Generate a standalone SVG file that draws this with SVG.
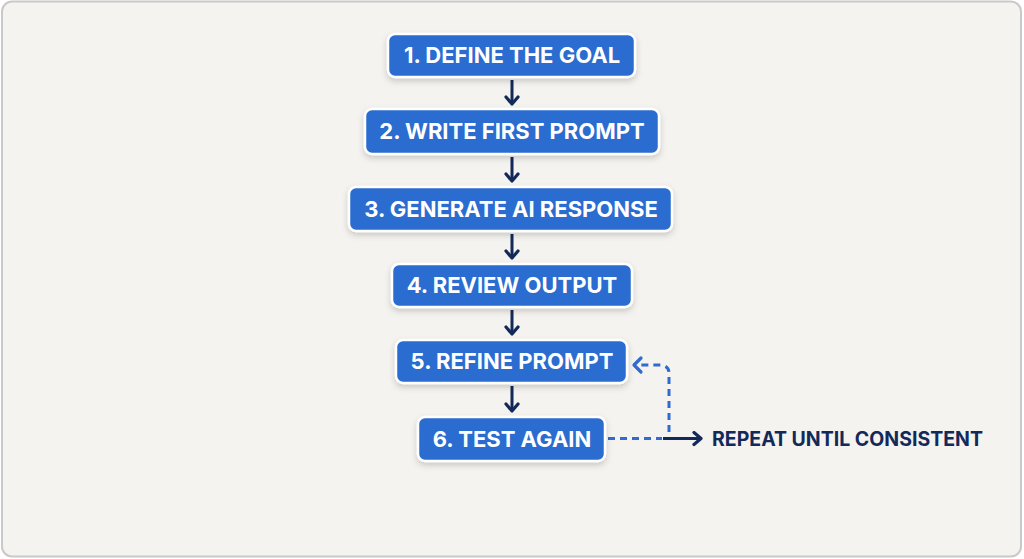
<svg xmlns="http://www.w3.org/2000/svg" width="1024" height="559" viewBox="0 0 1024 559">
<defs>
<filter id="sh" x="-10%" y="-30%" width="120%" height="170%">
<feDropShadow dx="0" dy="3" stdDeviation="3" flood-color="#000" flood-opacity="0.18"/>
</filter>
<marker id="ah" markerWidth="16" markerHeight="16" refX="10" refY="8" orient="auto" markerUnits="userSpaceOnUse" viewBox="0 0 16 16">
<path d="M3,2 L10,8 L3,14" fill="none" stroke="#13295a" stroke-width="3.2" stroke-linecap="round" stroke-linejoin="round"/>
</marker>
</defs>
<style>
.box{fill:#2b6ccf;stroke:#ffffff;stroke-width:2.5;filter:url(#sh)}
.lbl{font-family:"Inter","Liberation Sans",sans-serif;font-weight:700;font-size:22px;fill:#ffffff;text-anchor:middle}
.arr{stroke:#13295a;stroke-width:3;fill:none;marker-end:url(#ah)}
.dash{stroke:#2f6bd0;stroke-width:3;fill:none;stroke-dasharray:7 5}
</style>
<rect x="0" y="0" width="1024" height="559" fill="#ffffff"/>
<rect x="2" y="1.5" width="1019" height="555" rx="10" fill="#f4f3ef" stroke="#c9c9c9" stroke-width="2"/>

<g id="connectors">
<line class="arr" x1="512" y1="80" x2="512" y2="104"/>
<line class="arr" x1="512" y1="157" x2="512" y2="181"/>
<line class="arr" x1="512" y1="234" x2="512" y2="258"/>
<line class="arr" x1="512" y1="310" x2="512" y2="334"/>
<line class="arr" x1="512" y1="386" x2="512" y2="411"/>
<path class="dash" d="M608,438.5 L662,438.5"/>
<path class="dash" d="M669,432 L669,373 Q669,366 661,365 L640,365"/>
<path d="M641,358 L634,365 L641,372" fill="none" stroke="#2f6bd0" stroke-width="3.2" stroke-linecap="round" stroke-linejoin="round"/>
<path class="arr" d="M663,438.5 L701,438.5"/>
</g>

<g id="n1"><rect class="box" x="388" y="34" width="247" height="43" rx="7"/><text class="lbl" x="512" y="63">1. DEFINE THE GOAL</text></g>
<g id="n2"><rect class="box" x="365" y="109" width="294" height="45" rx="7"/><text class="lbl" x="512" y="139">2. WRITE FIRST PROMPT</text></g>
<g id="n3"><rect class="box" x="349" y="187" width="323" height="44" rx="7"/><text class="lbl" x="511" y="216.5">3. GENERATE AI RESPONSE</text></g>
<g id="n4"><rect class="box" x="392" y="264" width="240" height="43" rx="7"/><text class="lbl" x="512" y="293">4. REVIEW OUTPUT</text></g>
<g id="n5"><rect class="box" x="396" y="340" width="231" height="43" rx="7"/><text class="lbl" x="512" y="369">5. REFINE PROMPT</text></g>
<g id="n6"><rect class="box" x="418" y="417" width="187" height="44" rx="7"/><text class="lbl" x="512" y="446.5">6. TEST AGAIN</text></g>
<g id="note"><text x="712" y="445.5" font-family="Inter, 'Liberation Sans', sans-serif" font-weight="700" font-size="19.5" fill="#13295a">REPEAT UNTIL CONSISTENT</text></g>
</svg>
